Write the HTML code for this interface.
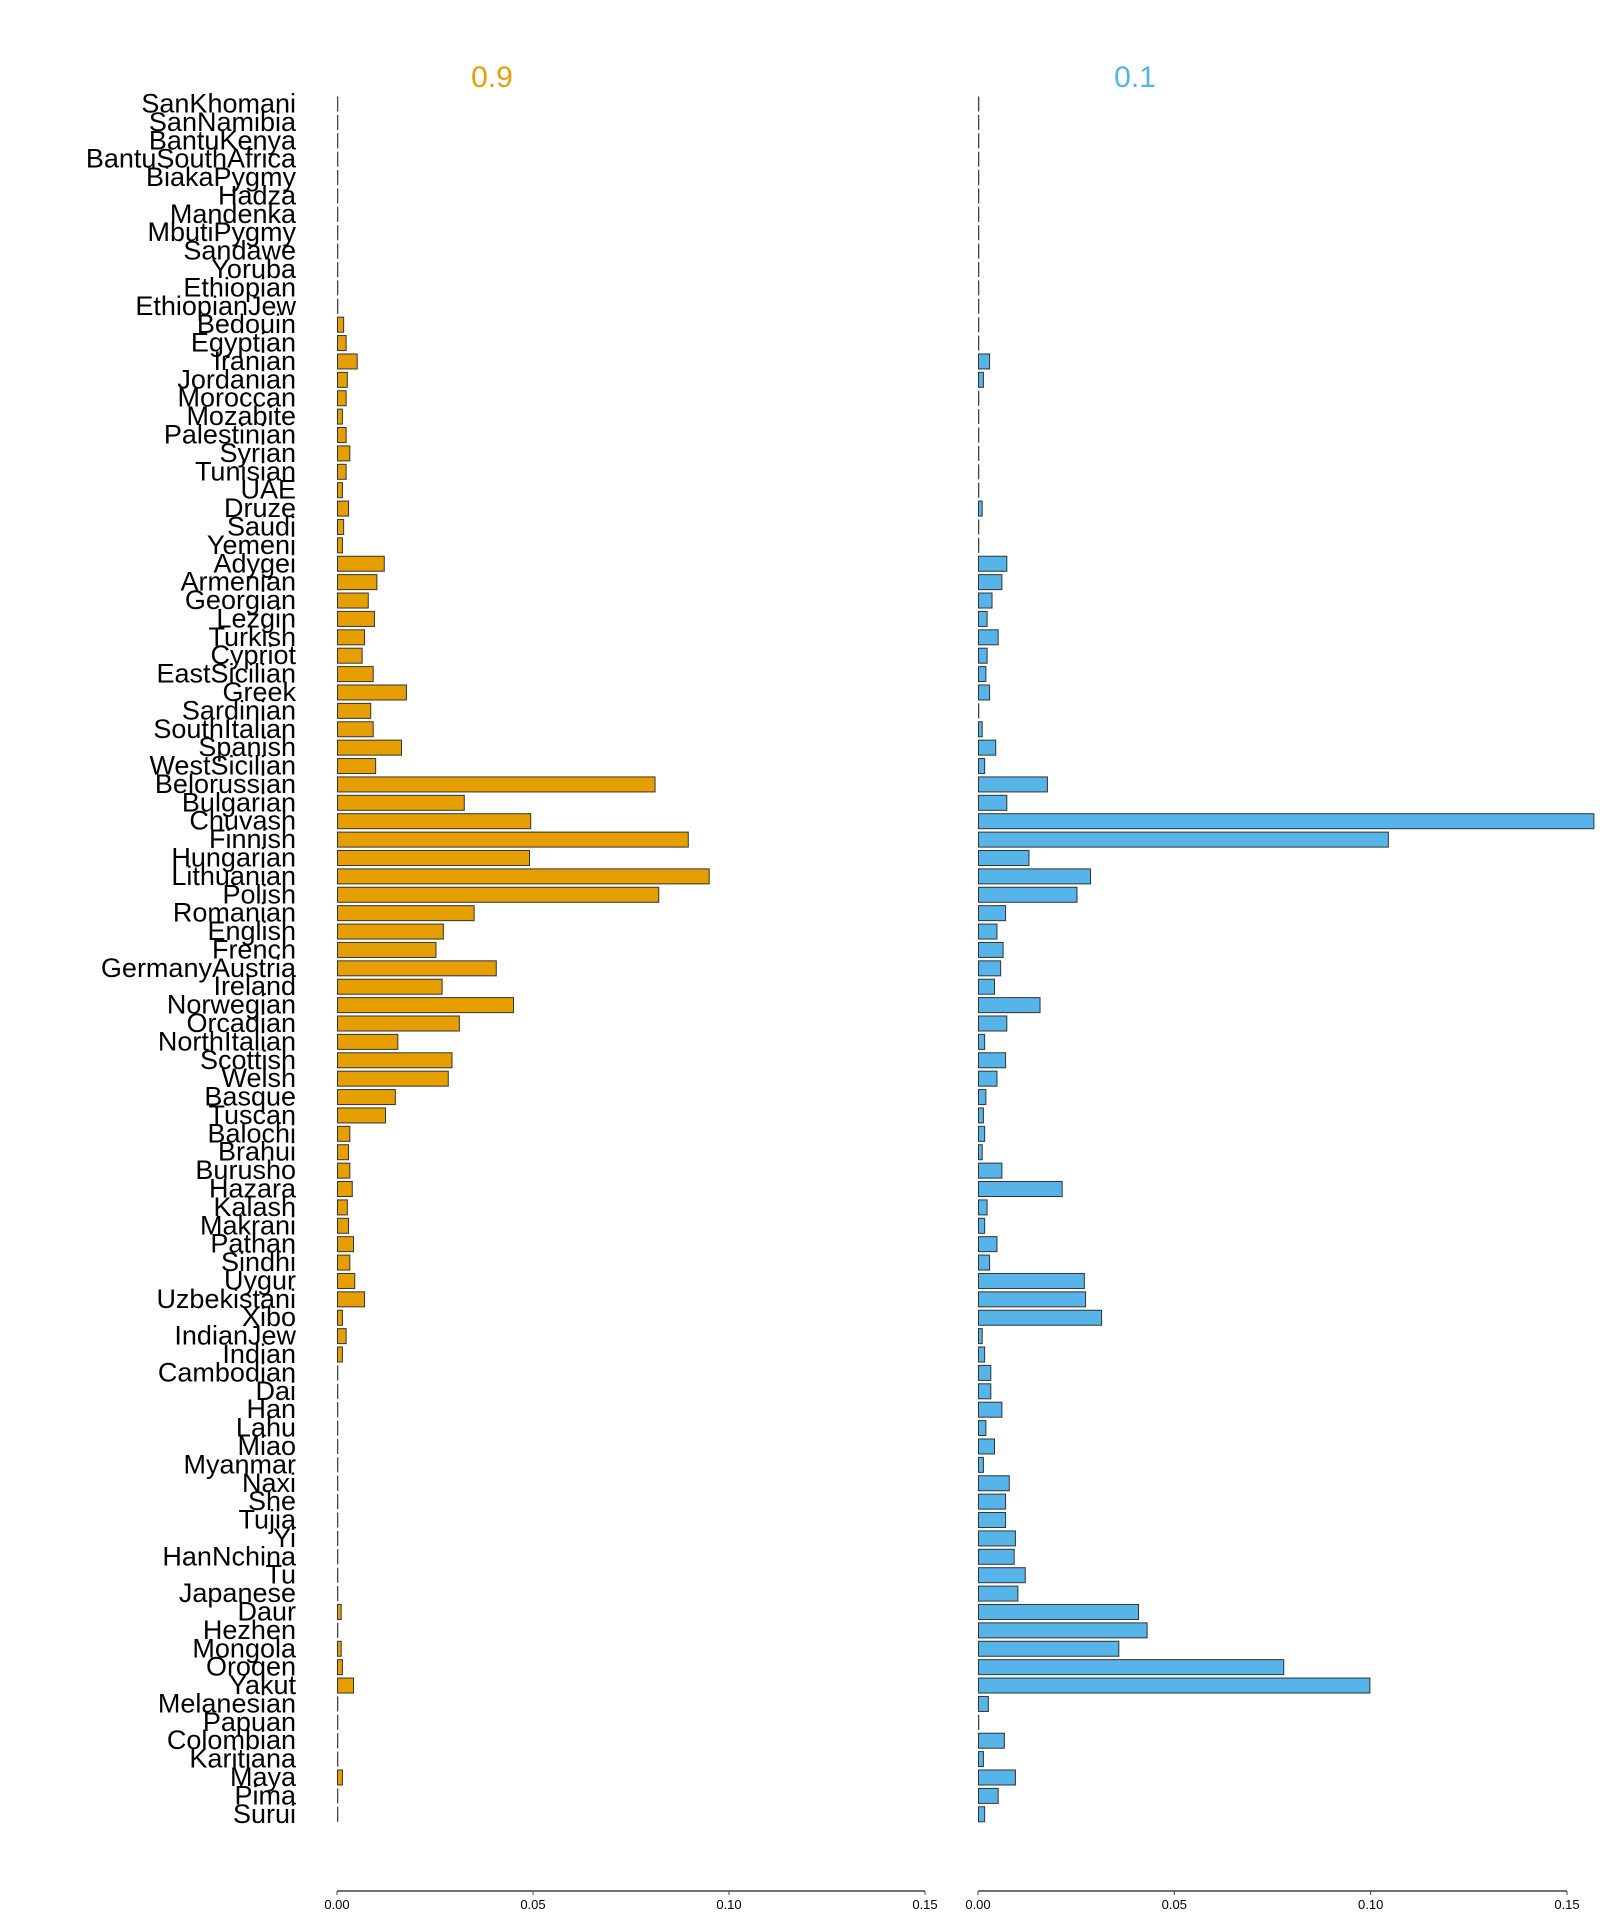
<!DOCTYPE html>
<html><head><meta charset="utf-8">
<style>
html,body{margin:0;padding:0;background:#fff;}
svg{display:block;}
text{font-family:"Liberation Sans",sans-serif;}
</style></head>
<body>
<svg id="s" width="1600" height="1920" viewBox="0 0 1600 1920" xmlns="http://www.w3.org/2000/svg">
<text x="492" y="87" font-size="30" fill="#E69F00" text-anchor="middle">0.9</text>
<text x="1135" y="87" font-size="30" fill="#56B4E9" text-anchor="middle">0.1</text>
<g id="g"></g>
</svg>
<script>
var names="SanKhomani SanNamibia BantuKenya BantuSouthAfrica BiakaPygmy Hadza Mandenka MbutiPygmy Sandawe Yoruba Ethiopian EthiopianJew Bedouin Egyptian Iranian Jordanian Moroccan Mozabite Palestinian Syrian Tunisian UAE Druze Saudi Yemeni Adygei Armenian Georgian Lezgin Turkish Cypriot EastSicilian Greek Sardinian SouthItalian Spanish WestSicilian Belorussian Bulgarian Chuvash Finnish Hungarian Lithuanian Polish Romanian English French GermanyAustria Ireland Norwegian Orcadian NorthItalian Scottish Welsh Basque Tuscan Balochi Brahui Burusho Hazara Kalash Makrani Pathan Sindhi Uygur Uzbekistani Xibo IndianJew Indian Cambodian Dai Han Lahu Miao Myanmar Naxi She Tujia Yi HanNchina Tu Japanese Daur Hezhen Mongola Oroqen Yakut Melanesian Papuan Colombian Karitiana Maya Pima Surui".split(" ");
var L={Ethiopian:277.8,Bedouin:281,Egyptian:283,Iranian:292,Jordanian:284,Moroccan:283,Mozabite:280,Palestinian:283,Syrian:286,Tunisian:283,UAE:280,Druze:285,Saudi:281,Yemeni:280,Adygei:314,Armenian:308,Georgian:301,Lezgin:306,Turkish:298,Cypriot:296,EastSicilian:305,Greek:332,Sardinian:303,SouthItalian:305,Spanish:328,WestSicilian:307,Belorussian:534,Bulgarian:379,Chuvash:433,Finnish:561,Hungarian:432,Lithuanian:578,Polish:537,Romanian:387,English:362,French:356,GermanyAustria:405,Ireland:361,Norwegian:419,Orcadian:375,NorthItalian:325,Scottish:369,Welsh:366,Basque:323,Tuscan:315,Balochi:286,Brahui:285,Burusho:286,Hazara:288,Kalash:284,Makrani:285,Pathan:289,Sindhi:286,Uygur:290,Uzbekistani:298,Xibo:280,IndianJew:283,Indian:280,Daur:279,Hezhen:278,Mongola:279,Oroqen:280,Yakut:289,Maya:280,Pima:278};
var R={Hadza:801,Bedouin:801,Egyptian:801,Iranian:808,Jordanian:803,Palestinian:801,Syrian:801,Tunisian:801,Druze:802,Saudi:801,Yemeni:801,Adygei:822,Armenian:818,Georgian:810,Lezgin:806,Turkish:815,Cypriot:806,EastSicilian:805,Greek:808,Sardinian:800,SouthItalian:802,Spanish:813,WestSicilian:804,Belorussian:855,Bulgarian:822,Chuvash:1299,Finnish:1132,Hungarian:840,Lithuanian:890,Polish:879,Romanian:821,English:814,French:819,GermanyAustria:817,Ireland:812,Norwegian:849,Orcadian:822,NorthItalian:804,Scottish:821,Welsh:814,Basque:805,Tuscan:803,Balochi:804,Brahui:802,Burusho:818,Hazara:867,Kalash:806,Makrani:804,Pathan:814,Sindhi:808,Uygur:885,Uzbekistani:886,Xibo:899,IndianJew:802,Indian:804,Cambodian:809,Dai:809,Han:818,Lahu:805,Miao:812,Myanmar:803,Naxi:824,She:821,Tujia:821,Yi:829,HanNchina:828,Tu:837,Japanese:831,Daur:929,Hezhen:936,Mongola:913,Oroqen:1047,Yakut:1117,Melanesian:807,Papuan:800,Colombian:820,Karitiana:803,Maya:829,Pima:815,Surui:804};
var LX=337, RX=978;
var h="";
for(var i=0;i<names.length;i++){
 var n=names[i], cy=104+i*18.39, y=cy-7.5;
 h+='<text x="296" y="'+(cy+8.5)+'" font-size="27" text-anchor="end" fill="#000">'+n+'</text>';
 var wl=L[n]?(L[n]-276)/0.8125:1.2; if(wl<1.2)wl=1.2;
 var wr=R[n]?(R[n]-799)/0.8125:1; if(wr<1)wr=1;
 if(wl<2.5) h+='<rect x="'+LX+'" y="'+y+'" width="1.3" height="15" fill="#444"/>';
 else h+='<rect x="'+(LX+0.5)+'" y="'+y+'" width="'+wl+'" height="15" fill="#E69F00" stroke="#333" stroke-width="1"/>';
 if(wr<2.5) h+='<rect x="'+RX+'" y="'+y+'" width="1.3" height="15" fill="#444"/>';
 else h+='<rect x="'+(RX+0.5)+'" y="'+y+'" width="'+wr+'" height="15" fill="#56B4E9" stroke="#333" stroke-width="1"/>';
}
function axis(x0,x1){
 var s='<line x1="'+x0+'" y1="1891" x2="'+x1+'" y2="1891" stroke="#444" stroke-width="1.5"/>';
 var lab=["0.00","0.05","0.10","0.15"];
 for(var k=0;k<4;k++){var x=x0+(x1-x0)*k/3;
  s+='<line x1="'+x+'" y1="1891" x2="'+x+'" y2="1895" stroke="#444"/>';
  s+='<text x="'+x+'" y="1909" font-size="13" text-anchor="middle" fill="#000">'+lab[k]+'</text>';}
 return s;
}
h+=axis(LX,925)+axis(RX,1567);
document.getElementById("g").innerHTML=h;
</script>
</body></html>
